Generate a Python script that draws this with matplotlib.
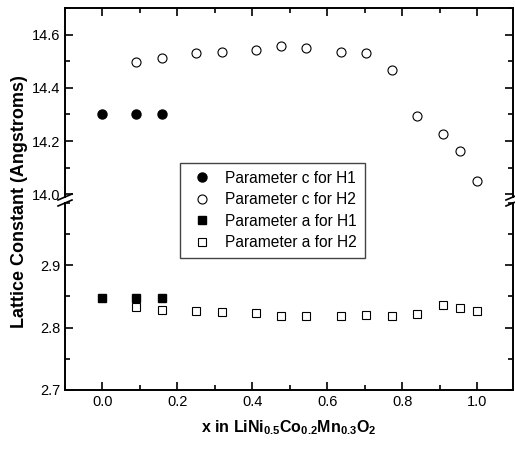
import matplotlib.pyplot as plt
import matplotlib.lines as mlines
from matplotlib.ticker import MultipleLocator

plt.rcParams['font.family'] = ['Liberation Sans', 'DejaVu Sans']
plt.rcParams['mathtext.fontset'] = 'custom'
plt.rcParams['mathtext.rm'] = 'Liberation Sans'
plt.rcParams['mathtext.bf'] = 'Liberation Sans:bold'

# parameter c (Angstroms)
x_c1 = [0.0, 0.09, 0.16]
c_h1 = [14.30, 14.30, 14.30]
x_c2 = [0.09, 0.16, 0.25, 0.318, 0.41, 0.477, 0.544, 0.635, 0.704, 0.771, 0.839, 0.908, 0.954, 1.0]
c_h2 = [14.497, 14.511, 14.530, 14.535, 14.541, 14.556, 14.550, 14.534, 14.531, 14.466, 14.296, 14.225, 14.161, 14.050]

# parameter a (Angstroms)
x_a1 = [0.0, 0.09, 0.16]
a_h1 = [2.848, 2.848, 2.848]
x_a2 = [0.09, 0.16, 0.25, 0.318, 0.41, 0.477, 0.544, 0.635, 0.704, 0.771, 0.839, 0.908, 0.954, 1.0]
a_h2 = [2.833, 2.829, 2.827, 2.825, 2.823, 2.819, 2.819, 2.818, 2.821, 2.819, 2.822, 2.836, 2.832, 2.827]

W, H = 515, 451
fig = plt.figure(figsize=(W / 100, H / 100), dpi=100)
left, right = 65 / W, 513 / W
ax_top = fig.add_axes([left, 1 - 197 / H, right - left, (197 - 8) / H])
ax_bot = fig.add_axes([left, 1 - 390 / H, right - left, (390 - 203) / H])

ms_c, ms_a = 6.5, 5.5
ax_top.plot(x_c1, c_h1, 'o', color='black', ms=ms_c, ls='none')
ax_top.plot(x_c2, c_h2, 'o', mfc='white', mec='black', mew=0.8, ms=ms_c, ls='none')
ax_bot.plot(x_a1, a_h1, 's', color='black', ms=ms_a, ls='none')
ax_bot.plot(x_a2, a_h2, 's', mfc='white', mec='black', mew=0.8, ms=ms_a, ls='none')

ax_top.set_ylim(13.99, 14.70)
ax_bot.set_ylim(2.7, 3.0)
for ax in (ax_top, ax_bot):
    ax.set_xlim(-0.1, 1.095)
    ax.xaxis.set_major_locator(MultipleLocator(0.2))
    ax.xaxis.set_minor_locator(MultipleLocator(0.1))
    ax.tick_params(which='both', direction='in', top=True, right=True, labelsize=10.5, width=1.2)
    ax.tick_params(which='major', length=6)
    ax.tick_params(which='minor', length=3.5)
    for s in ax.spines.values():
        s.set_linewidth(1.4)

ax_top.set_yticks([14.0, 14.2, 14.4, 14.6])
ax_top.yaxis.set_minor_locator(MultipleLocator(0.1))
ax_bot.set_yticks([2.7, 2.8, 2.9])
ax_bot.yaxis.set_minor_locator(MultipleLocator(0.05))

ax_top.spines['bottom'].set_visible(False)
ax_top.tick_params(which='both', bottom=False, labelbottom=False)
ax_bot.spines['top'].set_visible(False)
ax_bot.tick_params(which='both', top=False)

ax_bot.set_xlabel(r'x in LiNi$_{\mathbf{0.5}}$Co$_{\mathbf{0.2}}$Mn$_{\mathbf{0.3}}$O$_{\mathbf{2}}$',
                  fontsize=11.5, fontweight='bold', labelpad=7)
fig.text(20 / W, 1 - 202 / H, 'Lattice Constant (Angstroms)', rotation=90,
         fontsize=13, fontweight='bold', ha='center', va='center')

# break marks
for xc in (65, 513):
    for yc in (197, 203):
        fig.add_artist(mlines.Line2D([(xc - 7) / W, (xc + 7) / W],
                                     [1 - (yc + 3) / H, 1 - (yc - 3) / H],
                                     color='black', lw=1.2, transform=fig.transFigure))

handles = [
    mlines.Line2D([], [], marker='o', color='black', ls='none', ms=ms_c),
    mlines.Line2D([], [], marker='o', mfc='white', mec='black', mew=0.8, ls='none', ms=ms_c),
    mlines.Line2D([], [], marker='s', color='black', ls='none', ms=ms_a),
    mlines.Line2D([], [], marker='s', mfc='white', mec='black', mew=0.8, ls='none', ms=ms_a),
]
labels = ['Parameter c for H1', 'Parameter c for H2', 'Parameter a for H1', 'Parameter a for H2']
leg = fig.legend(handles, labels, loc='upper left', bbox_to_anchor=(180 / W, 1 - 163 / H),
                 bbox_transform=fig.transFigure, fontsize=11.2, fancybox=False,
                 edgecolor='#444444', framealpha=1, borderpad=0.5, labelspacing=0.42,
                 handletextpad=0.6, handlelength=1.8, borderaxespad=0)
leg.get_frame().set_linewidth(1.0)

fig.savefig('out.png', dpi=100)
